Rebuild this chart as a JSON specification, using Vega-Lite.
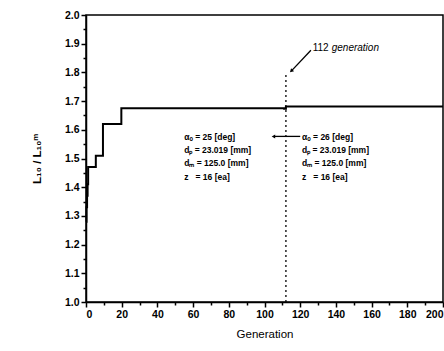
{
  "$schema": "https://vega.github.io/schema/vega-lite/v6.json",
  "width": 357,
  "height": 287,
  "autosize": {"type": "none"},
  "padding": {"left": 86, "top": 15, "right": 1, "bottom": 49},
  "background": "white",
  "config": {
    "view": {"stroke": "black", "strokeWidth": 1.5},
    "font": "Liberation Sans"
  },
  "datasets": {
    "curve": [
      {"x": 0, "y": 1.28},
      {"x": 0.3, "y": 1.33},
      {"x": 0.6, "y": 1.37},
      {"x": 0.9, "y": 1.41},
      {"x": 1.2, "y": 1.47},
      {"x": 5.5, "y": 1.51},
      {"x": 9.5, "y": 1.62},
      {"x": 19.8, "y": 1.675},
      {"x": 111, "y": 1.673},
      {"x": 112, "y": 1.681},
      {"x": 200, "y": 1.681}
    ],
    "notes": [
      {"x": 55, "y": 1.574, "t": "αₒ = 25 [deg]"},
      {"x": 55, "y": 1.528, "t": "dₚ = 23.019 [mm]"},
      {"x": 55, "y": 1.483, "t": "dₘ = 125.0 [mm]"},
      {"x": 55, "y": 1.437, "t": "z\u00a0\u00a0 = 16 [ea]"},
      {"x": 121, "y": 1.574, "t": "αₒ = 26 [deg]"},
      {"x": 121, "y": 1.528, "t": "dₚ = 23.019 [mm]"},
      {"x": 121, "y": 1.483, "t": "dₘ = 125.0 [mm]"},
      {"x": 121, "y": 1.437, "t": "z\u00a0\u00a0 = 16 [ea]"}
    ]
  },
  "encoding": {
    "x": {
      "field": "x", "type": "quantitative",
      "scale": {"domain": [0, 200], "nice": false},
      "axis": {
        "title": "Generation",
        "values": [0,10,20,30,40,50,60,70,80,90,100,110,120,130,140,150,160,170,180,190,200],
        "labelExpr": "datum.value % 20 == 0 ? datum.label : ''",
        "labelOverlap": false,
        "labelBound": false,
        "grid": false,
        "domainColor": "black", "domainWidth": 1.5,
        "tickColor": "black", "tickWidth": 1.5,
        "tickSize": {"condition": {"test": "datum.value % 20 != 0", "value": 3}, "value": 5},
        "labelFont": "Liberation Sans", "labelFontWeight": "bold", "labelFontSize": 10.5, "labelColor": "black",
        "labelPadding": 2,
        "titleFont": "Liberation Sans", "titleFontWeight": "normal", "titleFontSize": 11.5, "titleColor": "black",
        "titlePadding": 9
      }
    },
    "y": {
      "field": "y", "type": "quantitative",
      "scale": {"domain": [1.0, 2.0], "nice": false, "zero": false},
      "axis": {
        "title": "L₁₀ / L₁₀ᵐ",
        "values": [1.0,1.05,1.1,1.15,1.2,1.25,1.3,1.35,1.4,1.45,1.5,1.55,1.6,1.65,1.7,1.75,1.8,1.85,1.9,1.95,2.0],
        "labelExpr": "round(datum.value*20) % 2 == 0 ? format(datum.value, '.1f') : ''",
        "labelOverlap": false,
        "labelBound": false,
        "grid": false,
        "domainColor": "black", "domainWidth": 1.5,
        "tickColor": "black", "tickWidth": 1.5,
        "tickSize": {"condition": {"test": "round(datum.value*20) % 2 == 1", "value": 3}, "value": 5},
        "labelFont": "Liberation Sans", "labelFontWeight": "bold", "labelFontSize": 10.5, "labelColor": "black",
        "labelPadding": 2,
        "titleFont": "Liberation Sans", "titleFontWeight": "bold", "titleFontSize": 11.5, "titleColor": "black",
        "titlePadding": 22
      }
    }
  },
  "layer": [
    {
      "data": {"name": "curve"},
      "mark": {"type": "line", "interpolate": "step-after", "color": "black", "strokeWidth": 2}
    },
    {
      "data": {"values": [{"x": 112, "y": 1.0, "y2": 1.80}]},
      "mark": {"type": "rule", "color": "black", "strokeWidth": 1.3, "strokeDash": [2, 3]},
      "encoding": {"y2": {"field": "y2"}}
    },
    {
      "data": {"values": [{"x": 126, "y": 1.877, "x2": 115.5, "y2": 1.808}]},
      "mark": {"type": "rule", "color": "black", "strokeWidth": 1.3},
      "encoding": {"x2": {"field": "x2"}, "y2": {"field": "y2"}}
    },
    {
      "data": {"values": [{"x": 115, "y": 1.805}]},
      "mark": {"type": "point", "shape": "triangle-up", "filled": true, "color": "black", "size": 18, "angle": 225, "opacity": 1}
    },
    {
      "data": {"values": [{"x": 105.5, "y": 1.577, "x2": 120, "y2": 1.577}]},
      "mark": {"type": "rule", "color": "black", "strokeWidth": 1.3},
      "encoding": {"x2": {"field": "x2"}, "y2": {"field": "y2"}}
    },
    {
      "data": {"values": [{"x": 105, "y": 1.577}]},
      "mark": {"type": "point", "shape": "triangle-up", "filled": true, "color": "black", "size": 16, "angle": 270, "opacity": 1}
    },
    {
      "data": {"values": [{"x": 127, "y": 1.885, "t": "112"}]},
      "mark": {"type": "text", "align": "left", "baseline": "middle", "font": "Liberation Sans", "fontSize": 10, "color": "black"},
      "encoding": {"text": {"field": "t"}}
    },
    {
      "data": {"values": [{"x": 127, "y": 1.885, "t": "generation"}]},
      "mark": {"type": "text", "align": "left", "baseline": "middle", "dx": 19, "font": "Liberation Sans", "fontSize": 10, "fontStyle": "italic", "color": "black"},
      "encoding": {"text": {"field": "t"}}
    },
    {
      "data": {"name": "notes"},
      "mark": {"type": "text", "align": "left", "baseline": "middle", "font": "Liberation Sans", "fontSize": 8.5, "fontWeight": "bold", "color": "black"},
      "encoding": {"text": {"field": "t"}}
    }
  ]
}
